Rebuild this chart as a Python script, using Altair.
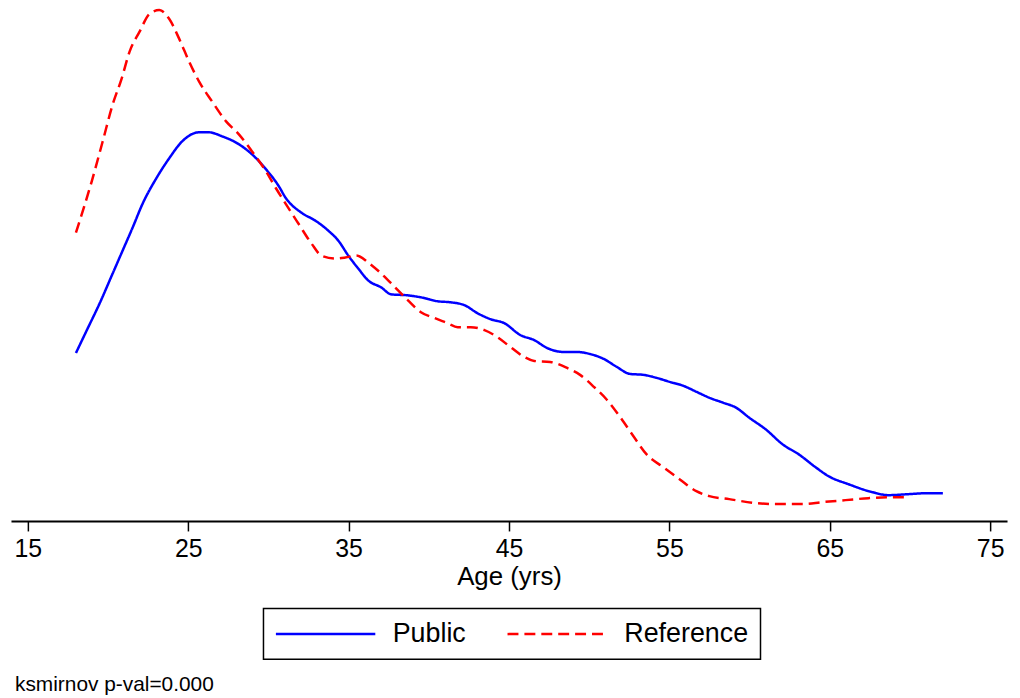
import altair as alt
import pandas as pd

public_age = [18.0, 18.68, 19.48, 20.29, 20.91, 21.53, 22.15, 23.02, 23.82, 24.63,
              25.68, 26.30, 27.11, 28.16, 28.97, 29.84, 30.64, 31.08, 32.07, 32.94,
              33.74, 34.36, 34.98, 35.60, 36.22, 37.03, 37.65, 38.70, 39.51, 40.56,
              41.37, 42.24, 43.04, 43.85, 44.71, 45.71, 46.57, 47.38, 48.43, 49.24,
              50.05, 50.91, 51.72, 52.53, 53.39, 54.20, 55.01, 55.87, 56.68, 57.49,
              58.35, 59.16, 59.97, 61.02, 62.07, 63.07, 64.12, 64.93, 66.17, 67.65,
              68.65, 69.89, 71.12, 72.05]
public_density = [0.0169, 0.0192, 0.0219, 0.0249, 0.0272, 0.0295, 0.0319, 0.0345, 0.0365, 0.0382,
                  0.0391, 0.0391, 0.0387, 0.0379, 0.0369, 0.0354, 0.0337, 0.0325, 0.0310, 0.0302,
                  0.0292, 0.0282, 0.0267, 0.0254, 0.0242, 0.0235, 0.0228, 0.0227, 0.0225, 0.0221,
                  0.0220, 0.0217, 0.0209, 0.0203, 0.0199, 0.0187, 0.0182, 0.0174, 0.0170, 0.0170,
                  0.0168, 0.0163, 0.0155, 0.0148, 0.0147, 0.0144, 0.0140, 0.0136, 0.0130, 0.0124,
                  0.0119, 0.0114, 0.0104, 0.0092, 0.0077, 0.0067, 0.0054, 0.0045, 0.0037, 0.0029,
                  0.0026, 0.0027, 0.0028, 0.0028]

reference_age = [18.0, 18.99, 19.67, 20.29, 20.85, 21.34, 21.96, 22.58, 23.20, 23.82,
                 24.44, 25.06, 25.68, 26.49, 27.36, 28.16, 28.97, 29.84, 30.46, 31.08,
                 31.88, 32.69, 33.31, 34.18, 34.80, 35.48, 36.22, 37.03, 37.90, 38.70,
                 39.51, 40.38, 41.18, 41.80, 42.61, 43.47, 44.28, 45.09, 45.95, 46.57,
                 47.57, 48.62, 49.43, 50.29, 51.10, 51.91, 52.77, 53.58, 54.63, 55.63,
                 56.68, 57.49, 58.73, 60.40, 61.83, 63.31, 64.55, 65.98, 67.41, 68.89,
                 69.82]
reference_density = [0.0290, 0.0342, 0.0382, 0.0419, 0.0445, 0.0472, 0.0492, 0.0510, 0.0514, 0.0505,
                     0.0485, 0.0462, 0.0442, 0.0422, 0.0402, 0.0389, 0.0372, 0.0352, 0.0335, 0.0319,
                     0.0299, 0.0279, 0.0267, 0.0264, 0.0265, 0.0267, 0.0260, 0.0249, 0.0235, 0.0222,
                     0.0210, 0.0204, 0.0199, 0.0195, 0.0195, 0.0192, 0.0185, 0.0175, 0.0165, 0.0161,
                     0.0160, 0.0154, 0.0147, 0.0135, 0.0122, 0.0105, 0.0085, 0.0067, 0.0054, 0.0042,
                     0.0030, 0.0025, 0.0022, 0.0018, 0.0017, 0.0017, 0.0019, 0.0021, 0.0023, 0.0024,
                     0.0024]

series_names = ["Public", "Reference"]
x_ticks = [15, 25, 35, 45, 55, 65, 75]
note_text = "ksmirnov p-val=0.000"

df = pd.concat([
    pd.DataFrame({"age": public_age, "density": public_density, "group": series_names[0], "order": range(len(public_age))}),
    pd.DataFrame({"age": reference_age, "density": reference_density, "group": series_names[1], "order": range(len(reference_age))}),
])

FONT = "Liberation Sans"

chart = alt.Chart(df).mark_line(strokeWidth=2.5, interpolate="monotone").encode(
    x=alt.X("age:Q",
            scale=alt.Scale(domain=[13.95, 76.05], nice=False, zero=False),
            axis=alt.Axis(values=x_ticks, title="Age (yrs)", grid=False,
                          tickSize=10, tickWidth=1.5, tickColor="black",
                          domainColor="black", domainWidth=2,
                          labelFontSize=25, labelFont=FONT, labelColor="black",
                          labelPadding=6, labelFlush=False,
                          titleFontSize=26, titleFont=FONT, titleFontWeight="normal",
                          titleColor="black", titlePadding=2)),
    y=alt.Y("density:Q", scale=alt.Scale(domain=[0, 0.0514], nice=False, zero=True), axis=None),
    color=alt.Color("group:N",
                    scale=alt.Scale(domain=series_names, range=["#0000ff", "#ff0000"]),
                    legend=alt.Legend(orient="none", legendX=254, legendY=602,
                                      direction="horizontal", title=None,
                                      symbolType="M-5,0L5,0", symbolSize=400,
                                      symbolStrokeWidth=2.5, symbolOffset=37,
                                      labelOffset=54, labelFontSize=27, labelFont=FONT,
                                      labelColor="black", columnPadding=36,
                                      padding=12, strokeColor="black")),
    strokeDash=alt.StrokeDash("group:N",
                              scale=alt.Scale(domain=series_names, range=[[1, 0], [11, 6]]),
                              legend=None),
    order="order:Q",
).properties(
    width=1002,
    height=514,
    autosize=alt.AutoSizeParams(type="none"),
    padding={"left": 3, "top": 0, "right": 5, "bottom": 178},
    title=alt.TitleParams(note_text, orient="bottom", anchor="start", fontSize=21,
                          font=FONT, fontWeight="normal", color="black", offset=14, dx=4),
).configure_view(stroke=None).configure_legend(strokeWidth=1.5)

chart.save("out.html", embed_options={"renderer": "svg", "actions": False})
